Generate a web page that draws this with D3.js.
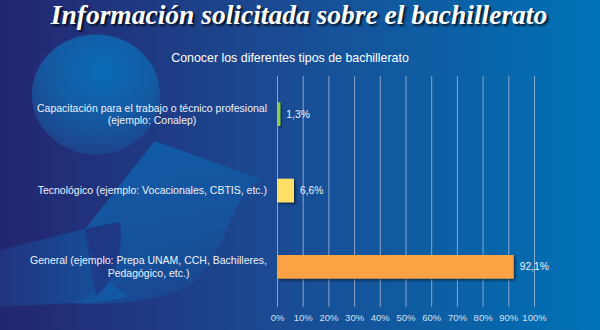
<!DOCTYPE html>
<html>
<head>
<meta charset="utf-8">
<script src="https://cdn.jsdelivr.net/npm/d3@7/dist/d3.min.js"></script>
<style>
  html, body { margin: 0; padding: 0; background: #1f2c78; }
  svg { display: block; }
</style>
</head>
<body>
<script>
// Survey results: which kind of bachillerato information was requested
const categories = [
  ["Capacitación para el trabajo o técnico profesional", "(ejemplo: Conalep)"],
  ["Tecnológico (ejemplo: Vocacionales, CBTIS, etc.)"],
  ["General (ejemplo: Prepa UNAM, CCH, Bachilleres,", "Pedagógico, etc.)"]
];
const values = [0.013, 0.066, 0.921];
const valueLabels = ["1,3%", "6,6%", "92,1%"];
const barColors = ["#8fce4a", "#ffe066", "#fba245"];
const tickValues = [0, 0.1, 0.2, 0.3, 0.4, 0.5, 0.6, 0.7, 0.8, 0.9, 1.0];
const title = "Información solicitada sobre el bachillerato";
const subtitle = "Conocer los diferentes tipos de bachillerato";

const W = 600, H = 330;
const svg = d3.select("body").append("svg").attr("width", W).attr("height", H);
const defs = svg.append("defs");

// background gradient, navy on the left to bright blue on the right
const bg = defs.append("linearGradient").attr("id", "bg").attr("x1", "0").attr("x2", "1").attr("y1", "0").attr("y2", "0");
bg.append("stop").attr("offset", "0").attr("stop-color", "#232670");
bg.append("stop").attr("offset", "0.45").attr("stop-color", "#1b4a92");
bg.append("stop").attr("offset", "1").attr("stop-color", "#0072b6");

// head circle: bright spot near the top, fading towards the rim
const circ = defs.append("radialGradient").attr("id", "circ")
  .attr("cx", "0.55").attr("cy", "0.3").attr("r", "0.75");
circ.append("stop").attr("offset", "0").attr("stop-color", "#0a6cb6");
circ.append("stop").attr("offset", "0.55").attr("stop-color", "#145aa2");
circ.append("stop").attr("offset", "1").attr("stop-color", "#1f4088");

// body swoosh
const sw = defs.append("linearGradient").attr("id", "sw").attr("x1", "0.2").attr("x2", "0.8").attr("y1", "0").attr("y2", "1");
sw.append("stop").attr("offset", "0").attr("stop-color", "#0d68b4");
sw.append("stop").attr("offset", "0.6").attr("stop-color", "#1358a2");
sw.append("stop").attr("offset", "1").attr("stop-color", "#1e428c");

const sw2 = defs.append("linearGradient").attr("id", "sw2").attr("x1", "0").attr("x2", "1").attr("y1", "0").attr("y2", "0");
sw2.append("stop").attr("offset", "0").attr("stop-color", "#223a86");
sw2.append("stop").attr("offset", "1").attr("stop-color", "#0c64b0");

const shadow = defs.append("filter").attr("id", "shadow").attr("x", "-20%").attr("y", "-20%").attr("width", "150%").attr("height", "160%");
shadow.append("feDropShadow").attr("dx", 2).attr("dy", 2).attr("stdDeviation", 1)
  .attr("flood-color", "#000").attr("flood-opacity", 0.45);

svg.append("rect").attr("width", W).attr("height", H).attr("fill", "url(#bg)");

// decorative figure behind the category labels
const deco = svg.append("g");
deco.append("ellipse").attr("cx", 96).attr("cy", 94.5).attr("rx", 64).attr("ry", 60).attr("fill", "url(#circ)");
deco.append("path")
  .attr("d", "M155,141 L260,179 C228,198 228,258 188,286 C152,304 104,305 72,303 C108,290 124,262 120,222 L85,229 Z")
  .attr("fill", "url(#sw)").attr("opacity", 0.75);
deco.append("path")
  .attr("d", "M0,250 L85,229 C92,262 108,286 128,296 C110,302 90,303 72,303 L0,307 Z")
  .attr("fill", "url(#sw2)").attr("opacity", 0.7);
deco.append("path")
  .attr("d", "M85,229 L120,222 C124,258 112,284 96,296 C92,276 88,252 85,229 Z")
  .attr("fill", "#1f3986").attr("opacity", 0.85);

// titles
svg.append("text")
  .attr("x", 299).attr("y", 24)
  .attr("text-anchor", "middle")
  .attr("font-family", "Liberation Serif, 'Times New Roman', serif")
  .attr("font-style", "italic").attr("font-weight", "bold")
  .attr("font-size", 27.5)
  .attr("fill", "#ffffff")
  .style("text-shadow", "2px 2px 2px rgba(0,0,0,0.7)")
  .text(title);

svg.append("text")
  .attr("x", 290).attr("y", 62)
  .attr("text-anchor", "middle")
  .attr("font-family", "Liberation Sans, Arial, sans-serif")
  .attr("font-size", 12.4)
  .attr("fill", "#ffffff")
  .text(subtitle);

// scales
const x = d3.scaleLinear().domain([0, 1]).range([277, 534]);
const y = d3.scaleBand().domain(d3.range(categories.length)).range([76, 305])
  .paddingInner(0.69).paddingOuter(0.345);

// vertical gridlines with short ticks, labels underneath
const xAxis = d3.axisBottom(x).tickValues(tickValues).tickSize(231)
  .tickFormat(d => Math.round(d * 100) + "%");
const ax = svg.append("g").attr("transform", "translate(0,76)").call(xAxis);
ax.select(".domain").remove();
ax.selectAll(".tick line").attr("stroke", "#9fb3d4").attr("stroke-opacity", 0.85).attr("stroke-width", 1);
ax.selectAll(".tick text")
  .attr("y", 238).attr("dy", "0.71em")
  .attr("fill", "#d6e0f0")
  .attr("font-family", "Liberation Sans, Arial, sans-serif")
  .attr("font-size", 9.5);

// bars
svg.append("g").selectAll("rect").data(values).join("rect")
  .attr("x", x(0))
  .attr("y", (d, i) => y(i))
  .attr("width", d => x(d) - x(0))
  .attr("height", y.bandwidth())
  .attr("fill", (d, i) => barColors[i])
  .attr("filter", "url(#shadow)");

// value labels
svg.append("g").selectAll("text").data(values).join("text")
  .attr("x", d => x(d) + 6)
  .attr("y", (d, i) => y(i) + y.bandwidth() / 2)
  .attr("dy", "0.35em")
  .attr("fill", "#eef2fa")
  .attr("font-family", "Liberation Sans, Arial, sans-serif")
  .attr("font-size", 10.3)
  .text((d, i) => valueLabels[i]);

// category labels, right aligned against the axis
const lineH = 12.6;
const labelX = 267;
const cat = svg.append("g").selectAll("text").data(categories).join("text")
  .attr("text-anchor", "end")
  .attr("fill", "#eef2fa")
  .attr("font-family", "Liberation Sans, Arial, sans-serif")
  .attr("font-size", 10.5);
cat.each(function(lines, i) {
  const cy = y(i) + y.bandwidth() / 2;
  const y0 = cy - (lines.length - 1) * lineH / 2;
  d3.select(this).selectAll("tspan").data(lines).join("tspan")
    .attr("x", labelX)
    .attr("y", (l, j) => y0 + j * lineH)
    .attr("dy", "0.35em")
    .attr("text-anchor", (l, j) => (lines.length > 1 && j === lines.length - 1) ? "middle" : "end")
    .text(l => l);
});
// the second line of a two-line label is centred under the first
cat.each(function(lines) {
  if (lines.length < 2) return;
  const spans = d3.select(this).selectAll("tspan").nodes();
  const w = spans[0].getComputedTextLength();
  d3.select(spans[1]).attr("x", labelX - w / 2);
});
</script>
</body>
</html>
